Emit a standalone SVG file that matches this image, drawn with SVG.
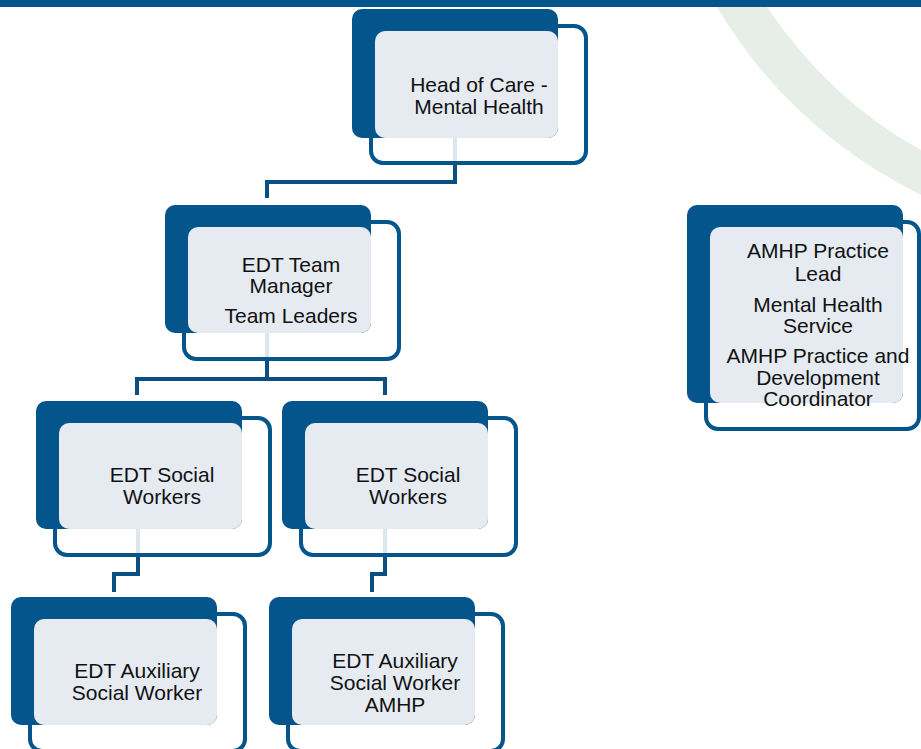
<svg xmlns="http://www.w3.org/2000/svg" width="921" height="749" viewBox="0 0 921 749">
<style>
.bar{fill:#03558b}
.arc{fill:#e7eee7}
.con{fill:none;stroke:#0a4f82;stroke-width:4}
.out{fill:#ffffff;fill-opacity:0.86;stroke:#03558b;stroke-width:4}
.dark{fill:#03558b}
.light{fill:#e5ebf1}
.t{font-family:"Liberation Sans",Arial,sans-serif;font-size:21px;fill:#111111;text-anchor:middle}
</style>
<rect width="921" height="749" fill="#ffffff"/>
<path class="arc" d="M717,7 Q790,130 921,195 L921,150 Q830,100 767,7 Z"/>
<rect class="bar" x="0" y="0" width="921" height="7"/>
<g id="connectors">
<path class="con" d="M455,138 V182 H267 V198"/>
<path class="con" d="M267,333 V379 H137 V395"/>
<path class="con" d="M267,379 H385 V395"/>
<path class="con" d="M138,529 V574 H114 V592"/>
<path class="con" d="M385,529 V574 H372 V592"/>
</g>
<g id="head-of-care">
<rect class="out" x="371" y="26" width="215" height="137" rx="12"/>
<rect class="dark" x="352" y="9" width="206" height="129" rx="10"/>
<rect class="light" x="375" y="31" width="183" height="107" rx="10"/>
<text class="t" x="479" y="92">Head of Care -</text>
<text class="t" x="479" y="113.5">Mental Health</text>
</g>
<g id="edt-team-manager">
<rect class="out" x="184" y="222" width="215" height="137" rx="12"/>
<rect class="dark" x="165" y="205" width="206" height="128" rx="10"/>
<rect class="light" x="188" y="227" width="183" height="106" rx="10"/>
<text class="t" x="291" y="272">EDT Team</text>
<text class="t" x="291" y="293">Manager</text>
<text class="t" x="291" y="323">Team Leaders</text>
</g>
<g id="edt-social-workers-1">
<rect class="out" x="55" y="418" width="215" height="137" rx="12"/>
<rect class="dark" x="36" y="401" width="206" height="128" rx="10"/>
<rect class="light" x="59" y="423" width="183" height="106" rx="10"/>
<text class="t" x="162" y="482">EDT Social</text>
<text class="t" x="162" y="504">Workers</text>
</g>
<g id="edt-social-workers-2">
<rect class="out" x="301" y="418" width="215" height="137" rx="12"/>
<rect class="dark" x="282" y="401" width="206" height="128" rx="10"/>
<rect class="light" x="305" y="423" width="183" height="106" rx="10"/>
<text class="t" x="408" y="482">EDT Social</text>
<text class="t" x="408" y="504">Workers</text>
</g>
<g id="edt-auxiliary-1">
<rect class="out" x="30" y="614" width="215" height="137" rx="12"/>
<rect class="dark" x="11" y="597" width="206" height="128" rx="10"/>
<rect class="light" x="34" y="619" width="183" height="106" rx="10"/>
<text class="t" x="137" y="678">EDT Auxiliary</text>
<text class="t" x="137" y="700">Social Worker</text>
</g>
<g id="edt-auxiliary-2">
<rect class="out" x="288" y="614" width="215" height="137" rx="12"/>
<rect class="dark" x="269" y="597" width="206" height="128" rx="10"/>
<rect class="light" x="292" y="619" width="183" height="106" rx="10"/>
<text class="t" x="395" y="668">EDT Auxiliary</text>
<text class="t" x="395" y="690">Social Worker</text>
<text class="t" x="395" y="712">AMHP</text>
</g>
<g id="amhp-practice-lead">
<rect class="out" x="706" y="222" width="213" height="207" rx="12"/>
<rect class="dark" x="687" y="205" width="216" height="198" rx="10"/>
<rect class="light" x="710" y="227" width="193" height="176" rx="10"/>
<text class="t" x="818" y="258">AMHP Practice</text>
<text class="t" x="818" y="281">Lead</text>
<text class="t" x="818" y="312">Mental Health</text>
<text class="t" x="818" y="333">Service</text>
<text class="t" x="818" y="363">AMHP Practice and</text>
<text class="t" x="818" y="385">Development</text>
<text class="t" x="818" y="406">Coordinator</text>
</g>
</svg>
